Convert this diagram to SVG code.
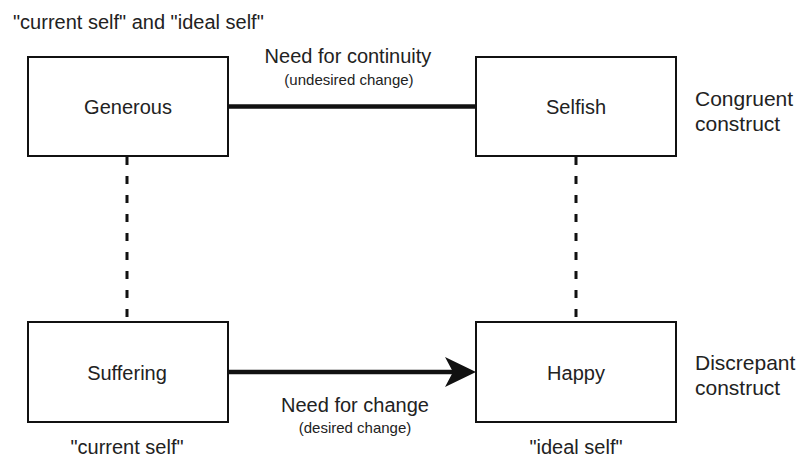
<svg xmlns="http://www.w3.org/2000/svg" width="800" height="457" viewBox="0 0 800 457">
<style>
text{font-family:"Liberation Sans",Arial,sans-serif;fill:#222}
.box{fill:#fff;stroke:#111;stroke-width:2}
.lbl{font-size:20px;text-anchor:middle}
.sub{font-size:15px;text-anchor:middle}
.side{font-size:21px}
.dash{stroke:#111;stroke-width:3;stroke-dasharray:8 11;fill:none}
.solid{stroke:#111;stroke-width:4.5;fill:none}
</style>
<rect width="800" height="457" fill="#fff"/>
<text x="13" y="29" style="font-size:20px">"current self" and "ideal self"</text>
<g id="connectors">
<line class="dash" x1="127" y1="157" x2="127" y2="322"/>
<line class="dash" x1="576" y1="157" x2="576" y2="322"/>
<line class="solid" x1="228" y1="106.5" x2="476" y2="106.5"/>
<line class="solid" x1="228" y1="372" x2="455" y2="372"/>
<polygon points="476,372 445,357 453,372 445,387" fill="#111"/>
<text class="lbl" x="348" y="63">Need for continuity</text>
<text class="sub" x="349" y="85">(undesired change)</text>
<text class="lbl" x="355" y="412">Need for change</text>
<text class="sub" x="355" y="433">(desired change)</text>
</g>
<g id="generous">
<rect class="box" x="28" y="57" width="200" height="99"/>
<text class="lbl" x="128" y="114">Generous</text>
</g>
<g id="selfish">
<rect class="box" x="476" y="57" width="200" height="99"/>
<text class="lbl" x="576" y="114">Selfish</text>
</g>
<g id="suffering">
<rect class="box" x="28" y="322" width="200" height="100"/>
<text class="lbl" x="127" y="380">Suffering</text>
</g>
<g id="happy">
<rect class="box" x="476" y="322" width="200" height="100"/>
<text class="lbl" x="576" y="380">Happy</text>
</g>
<g id="congruent">
<text class="side" x="695" y="106">Congruent</text>
<text class="side" x="695" y="131">construct</text>
</g>
<g id="discrepant">
<text class="side" x="695" y="370">Discrepant</text>
<text class="side" x="695" y="395">construct</text>
</g>
<text class="lbl" x="127" y="454">"current self"</text>
<text class="lbl" x="576" y="454">"ideal self"</text>
</svg>
